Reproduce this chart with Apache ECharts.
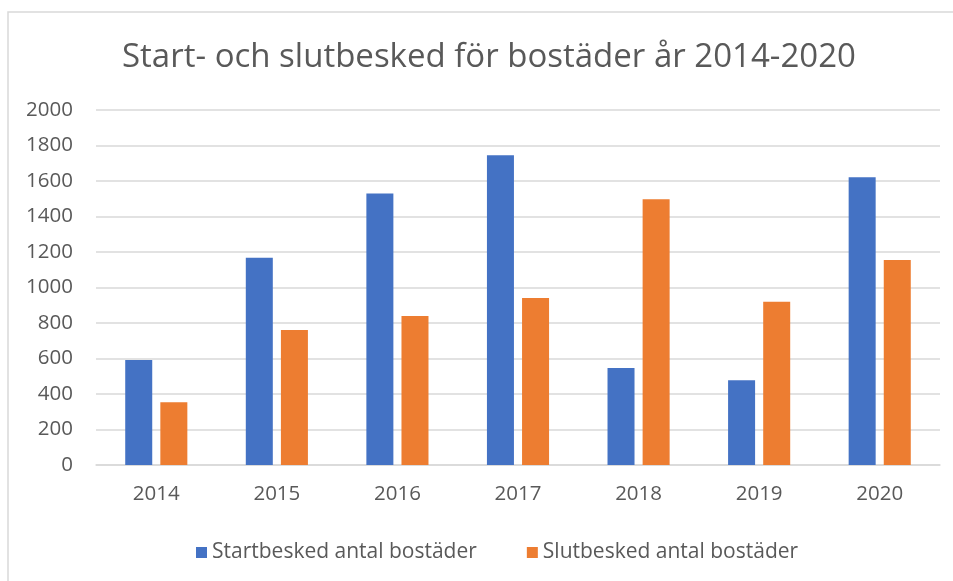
<!DOCTYPE html>
<html>
<head>
<meta charset="utf-8">
<script src="https://cdn.jsdelivr.net/npm/echarts@6/dist/echarts.min.js"></script>
<style>
html,body{margin:0;padding:0;background:#fff;}
#chart{width:953px;height:581px;}
</style>
</head>
<body>
<div id="chart"></div>
<script>
const titleText = 'Start- och slutbesked för bostäder år 2014-2020';
const categories = ['2014','2015','2016','2017','2018','2019','2020'];
const seriesNames = ['Startbesked antal bostäder','Slutbesked antal bostäder'];
const startbesked = [592, 1168, 1529, 1745, 546, 477, 1621];
const slutbesked = [353, 760, 839, 941, 1497, 920, 1155];
const yMin = 0, yMax = 2000, yStep = 200;

const FONT = '"Open Sans", sans-serif';
const chart = echarts.init(document.getElementById('chart'), null, {renderer:'canvas'});
chart.setOption({
  animation: false,
  backgroundColor: '#ffffff',
  graphic: [{
    type: 'rect',
    shape: {x: 8, y: 12, width: 1000, height: 700},
    style: {fill: 'none', stroke: '#d9d9d9', lineWidth: 1.5},
    silent: true
  }],
  title: {
    text: titleText,
    left: 117,
    top: 36,
    textStyle: {fontFamily: FONT, fontSize: 33, fontWeight: 'normal', color: '#595959'}
  },
  legend: {
    data: seriesNames,
    top: 537,
    left: 191,
    itemWidth: 11,
    itemHeight: 11,
    itemGap: 50,
    icon: 'rect',
    textStyle: {fontFamily: FONT, fontSize: 21, color: '#595959'}
  },
  grid: {left: 96, right: 13, top: 110, bottom: 116, containLabel: false},
  xAxis: {
    type: 'category',
    data: categories,
    axisLine: {lineStyle: {color: '#d9d9d9', width: 1.5}},
    axisTick: {show: false},
    axisLabel: {fontFamily: FONT, fontSize: 20.5, color: '#595959', margin: 19}
  },
  yAxis: {
    type: 'value',
    min: yMin, max: yMax, interval: yStep,
    axisLine: {show: false},
    axisTick: {show: false},
    splitLine: {lineStyle: {color: '#d9d9d9', width: 1.5}},
    axisLabel: {fontFamily: FONT, fontSize: 20.5, color: '#595959', margin: 23,
      formatter: function (v) { return String(v); }}
  },
  series: [
    {name: seriesNames[0], type: 'bar', data: startbesked, barWidth: '22.4%', barGap: '30%',
     itemStyle: {color: '#4472C4'}},
    {name: seriesNames[1], type: 'bar', data: slutbesked, barWidth: '22.4%', barGap: '30%',
     itemStyle: {color: '#ED7D31'}}
  ]
});
</script>
</body>
</html>
